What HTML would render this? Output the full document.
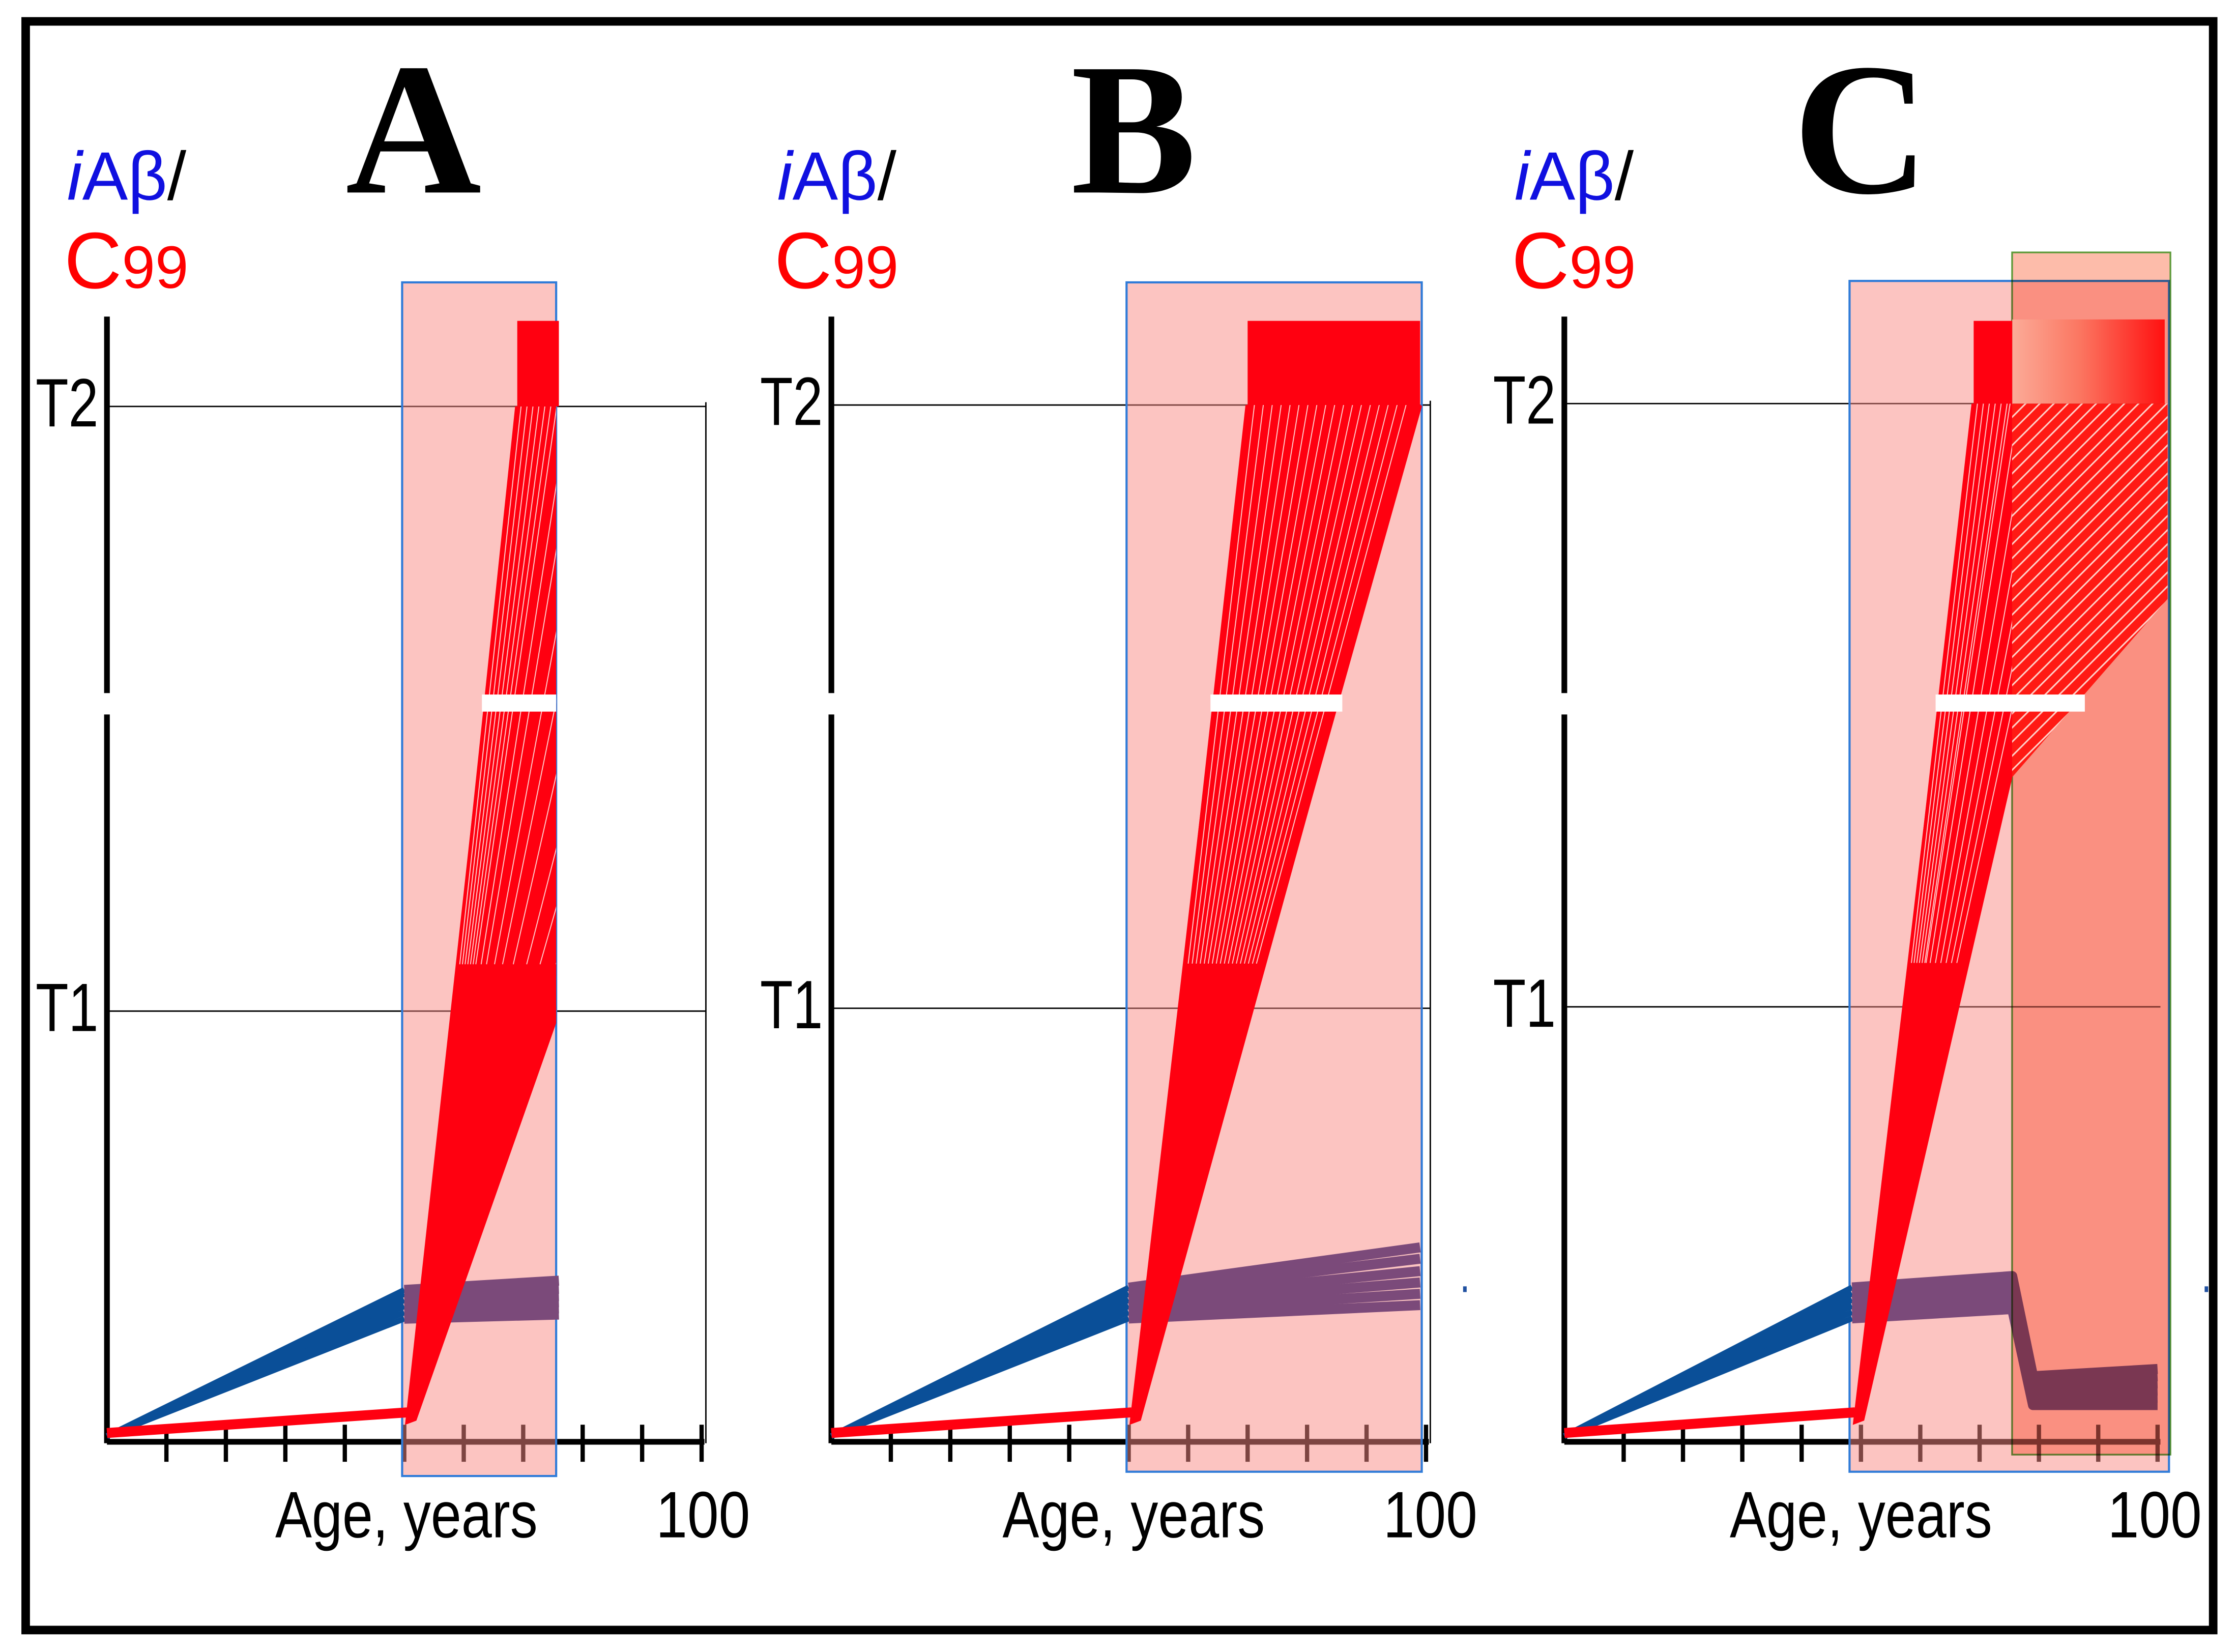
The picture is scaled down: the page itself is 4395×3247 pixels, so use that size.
<!DOCTYPE html>
<html><head><meta charset="utf-8">
<style>
html,body{margin:0;padding:0;background:#fff;}
svg{display:block;}
</style></head>
<body>
<svg id="chart" xmlns="http://www.w3.org/2000/svg" width="4395" height="3247" viewBox="0 0 1568 1158.4" preserveAspectRatio="none">
<defs>
<pattern id="hatch" patternUnits="userSpaceOnUse" width="7" height="7" patternTransform="rotate(45)">
<rect width="7" height="7" fill="#ff1a14"/><rect x="0" y="0" width="1.1" height="7" fill="#ffd0c8"/>
</pattern>
<linearGradient id="grad" x1="0" x2="1" y1="0" y2="0">
<stop offset="0" stop-color="#fbab98"/><stop offset="0.45" stop-color="#fb7560"/><stop offset="1" stop-color="#ff1010"/>
</linearGradient>
<clipPath id="clipA"><rect x="282" y="150" width="108" height="900"/></clipPath>
<clipPath id="clipB"><rect x="700" y="150" width="297" height="900"/></clipPath>
<clipPath id="clipC"><rect x="1200" y="150" width="211" height="900"/></clipPath>
</defs>
<rect x="0" y="0" width="1568" height="1158.4" fill="#fff"/>
<rect x="18" y="15" width="1534" height="1128" fill="none" stroke="#000" stroke-width="6"/>
</svg>
<script>
// ---- data ----
const ageTicks = [10,20,30,40,50,60,70,80,90,100];
const redBaseEnd = 2.3;
const aBlueAge = 50, aPurpleAge = 76;
const aBlueEnd = [11.4,12.0,12.6,13.2,13.8,14.2];
const aPurpleEnd = [11.8,12.4,13.0,13.6,14.3,15.1];
const aRedTops = [69,70,71,72,73,74,75,76,78,80,83,86,90,95,100,106,112];
const aBlock = [69,76];
const bBlueAge = 50, bPurpleAge = 99;
const bBlueEnd = [11.4,12.0,12.6,13.2,13.8,14.4];
const bPurpleEnd = [12.7,13.8,14.9,16.0,17.2,18.3];
const bRedTops = [70,71.5,73,74.5,76,77.5,79,80.5,82,83.5,85,86.5,88,89.5,91,92.5,94,95.5,97,99];
const bBlock = [70,99];
const cBlueAge = 48.5, cPurpleMidAge = 75.5, cDropAge = 79, cPurpleEndAge = 100;
const cBlueEnd = [11.4,12.0,12.6,13.2,13.8,14.4];
const cPurpleMid = [12.3,12.9,13.6,14.2,14.9,15.5];
const cPurpleDrop = [3.0,3.6,4.2,4.8,5.3,5.8];
const cPurpleEnd = [3.0,3.7,4.4,5.1,5.8,6.5];
const cRedTops = [69,70,71,72,73,74,75,75.5,77,79,81,83,85,87,90];
const cBlock = [69,75.5];
const cFadeBlock = [75.5,100];

const NS = "http://www.w3.org/2000/svg";
const svg = document.getElementById('chart');
function mk(tag, attrs, parent){
  const e = document.createElementNS(NS, tag);
  for (const k in attrs) e.setAttribute(k, attrs[k]);
  (parent||svg).appendChild(e);
  return e;
}
function makeScales(p){
  return {
    X: a => p.x0 + (p.x100 - p.x0) * a / 100,
    Y: v => p.y0 - (p.y0 - p.yTop) * v / 100
  };
}
const panels = [
 {id:'a', letter:'A', x0:75, x100:492, y0:1007, yTop:285, yT1:709, titleX:290, labelX:47, ageX:193, hundredX:460, rightLine:495,
  box:[282,198,108,837], clip:'clipA', blueAge:aBlueAge, blueEnd:aBlueEnd, purple:[[aPurpleAge,aPurpleEnd]], redTops:aRedTops, block:aBlock},
 {id:'b', letter:'B', x0:583, x100:1000, y0:1007, yTop:284, yT1:707, titleX:795, labelX:545, ageX:703, hundredX:970, rightLine:1003,
  box:[790,198,207,834], clip:'clipB', blueAge:bBlueAge, blueEnd:bBlueEnd, purple:[[bPurpleAge,bPurpleEnd]], redTops:bRedTops, block:bBlock},
 {id:'c', letter:'C', x0:1097, x100:1513, y0:1007, yTop:283, yT1:706, titleX:1305, labelX:1062, ageX:1213, hundredX:1478, rightLine:null,
  box:[1297,197,224,835], clip:'clipC', blueAge:cBlueAge, blueEnd:cBlueEnd,
  purple:[[cPurpleMidAge,cPurpleMid],[cDropAge,cPurpleDrop],[cPurpleEndAge,cPurpleEnd]], redTops:cRedTops, block:cBlock}
];

panels.forEach(p => {
  const {X, Y} = makeScales(p);
  const g = mk('g', {});
  
  

  const t = mk('text', {x:p.titleX, y:135, 'text-anchor':'middle', 'font-family':'"Liberation Serif", serif', 'font-weight':'bold', 'font-size':132, fill:'#000'}, g);
  t.textContent = p.letter;
  
  
  const yl = mk('text', {x:p.labelX, y:140, 'font-family':'"Liberation Sans", sans-serif', 'font-size':48}, g);
  yl.innerHTML = '<tspan fill="#1010e0" font-style="italic">i</tspan><tspan fill="#1010e0">Aβ</tspan><tspan fill="#000">/</tspan>';
  
  
  const yl2 = mk('text', {x:p.labelX - 2, y:202, 'font-family':'"Liberation Sans", sans-serif', 'font-size':56, fill:'#ff0000'}, g);
  yl2.innerHTML = 'C<tspan font-size="42">99</tspan>';
  
  

  [['T2', Y(100)], ['T1', p.yT1]].forEach(([lab, yy]) => {
    const ln = mk('line', {x1:p.x0, x2:(p.id==='c'?1515:p.rightLine), y1:yy, y2:yy, stroke:'#000', 'stroke-width':1}, g);
    
    
    const tl = mk('text', {x:p.x0 - 50, y:yy + 14, 'font-family':'"Liberation Sans", sans-serif', 'font-size':48, fill:'#000', textLength:44, lengthAdjust:'spacingAndGlyphs'}, g);
    tl.textContent = lab;
    
    
  });
  if (p.rightLine) {
    const rl = mk('line', {x1:p.rightLine, x2:p.rightLine, y1:Y(100)-3, y2:p.y0 + 5, stroke:'#000', 'stroke-width':1}, g);
    
    
  }
  const ya = mk('line', {x1:p.x0, x2:p.x0, y1:222, y2:p.y0 + 5, stroke:'#000', 'stroke-width':4}, g);
  
  
  const yb = mk('rect', {x:p.x0 - 4, y:486, width:8, height:15, fill:'#fff'}, g);
  
  
  const xa = mk('line', {x1:p.x0, x2:X(100) + 2, y1:p.y0 + 4, y2:p.y0 + 4, stroke:'#000', 'stroke-width':4}, g);
  
  
  ageTicks.forEach(a => {
    const tk = mk('line', {x1:X(a), x2:X(a), y1:p.y0 - 8, y2:p.y0 + 18, stroke:'#000', 'stroke-width':3}, g);
    
    
  });
  const at = mk('text', {x:p.ageX, y:1078, 'font-family':'"Liberation Sans", sans-serif', 'font-size':46, fill:'#000', textLength:184, lengthAdjust:'spacingAndGlyphs'}, g);
  at.textContent = 'Age, years';
  
  
  const ht = mk('text', {x:p.hundredX, y:1078, 'font-family':'"Liberation Sans", sans-serif', 'font-size':46, fill:'#000', textLength:66, lengthAdjust:'spacingAndGlyphs'}, g);
  ht.textContent = '100';
  
  

  const bx = mk('rect', {x:p.box[0], y:p.box[1], width:p.box[2], height:p.box[3], fill:'#f98a84', 'fill-opacity':0.5, stroke:'#2f7bd8', 'stroke-width':1.5}, g);
  
  

  p.blueEnd.forEach((v, i) => {
    const l = mk('line', {x1:X(0), y1:Y(0), x2:X(p.blueAge), y2:Y(v), stroke:'#0a4f98', 'stroke-width':4}, g);
    
    
  });
  p.blueEnd.forEach((v, i) => {
    let pts = [[p.blueAge, v]];
    p.purple.forEach(seg => pts.push([seg[0], seg[1][i]]));
    const pl = mk('polyline', {points: pts.map(q => X(q[0]) + ',' + Y(q[1])).join(' '), fill:'none', stroke:'#7b4a7a', 'stroke-width':7, 'stroke-linejoin':'round'}, g);
    
    
  });

  if (p.id === 'c') {
    const gb = mk('rect', {x:1411, y:177, width:111, height:843, fill:'rgb(253,188,170)', stroke:'#5e9a3a', 'stroke-width':1.2, style:'mix-blend-mode:multiply'}, g);
    
    
  }

  const rb = mk('line', {x1:X(0), y1:Y(0.3), x2:X(p.blueAge + 0.5), y2:Y(redBaseEnd), stroke:'#ff0010', 'stroke-width':7}, g);
  
  

  const fan = mk('g', {'clip-path':'url(#' + p.clip + ')'}, g);
  
  
  const bx0 = X(p.blueAge + 0.6), by0 = Y(1.5);
  const tops = p.redTops;
  const poly = mk('polygon', {points: [bx0-2, by0+3, X(tops[0]), Y(100), X(tops[tops.length-1]), Y(100), bx0+6, by0].join(' '), fill:'#ff0010'}, fan);
  
  
  tops.forEach((a, i) => {
    const l = mk('line', {x1:bx0 + 2, y1:by0, x2:X(a), y2:Y(100), stroke:'#ff0010', 'stroke-width':3}, fan);
    
    
    if (i > 0 && i < tops.length - 1) {
      const f = 0.55;
      const w = mk('line', {x1:X(a) + (bx0 - X(a)) * f, y1:Y(100) + (by0 - Y(100)) * f, x2:X(a) - 1.5, y2:Y(100), stroke:'#ffc8c8', 'stroke-width':0.7}, fan);
      
      
    }
  });
  const yBreak = 487;
  const fr = (yBreak - by0) / (Y(100) - by0);
  let xl = bx0 + (X(tops[0]) - bx0) * fr - 3;
  let xr = Math.min(bx0 + (X(tops[tops.length-1]) - bx0) * fr + 3, p.box[0] + p.box[2]);
  if (p.id === 'c') xr = 1462;
  if (p.id === 'c') {
    const h = mk('polygon', {points:'1411,' + Y(100) + ' 1520,' + Y(100) + ' 1520,420 1411,545', fill:'url(#hatch)'}, g);
    
    
    const fb = mk('rect', {x:X(cFadeBlock[0]), y:224, width:X(cFadeBlock[1]) - X(cFadeBlock[0]) + 5, height:Y(100) - 224, fill:'url(#grad)'}, g);
    
    
  }
  const band = mk('rect', {x:xl, y:yBreak, width:xr - xl, height:12, fill:'#fff'}, g);
  
  
  const blk = mk('rect', {x:X(p.block[0]), y:225, width:X(p.block[1]) - X(p.block[0]), height:Y(100) - 225, fill:'#ff0010'}, g);
  
  
});
const dot1 = mk('rect', {x:1026, y:902, width:2.5, height:4, fill:'#2050a0'});


const dot2 = mk('rect', {x:1546, y:902, width:2.5, height:4, fill:'#2050a0'});


</script>
</body></html>
